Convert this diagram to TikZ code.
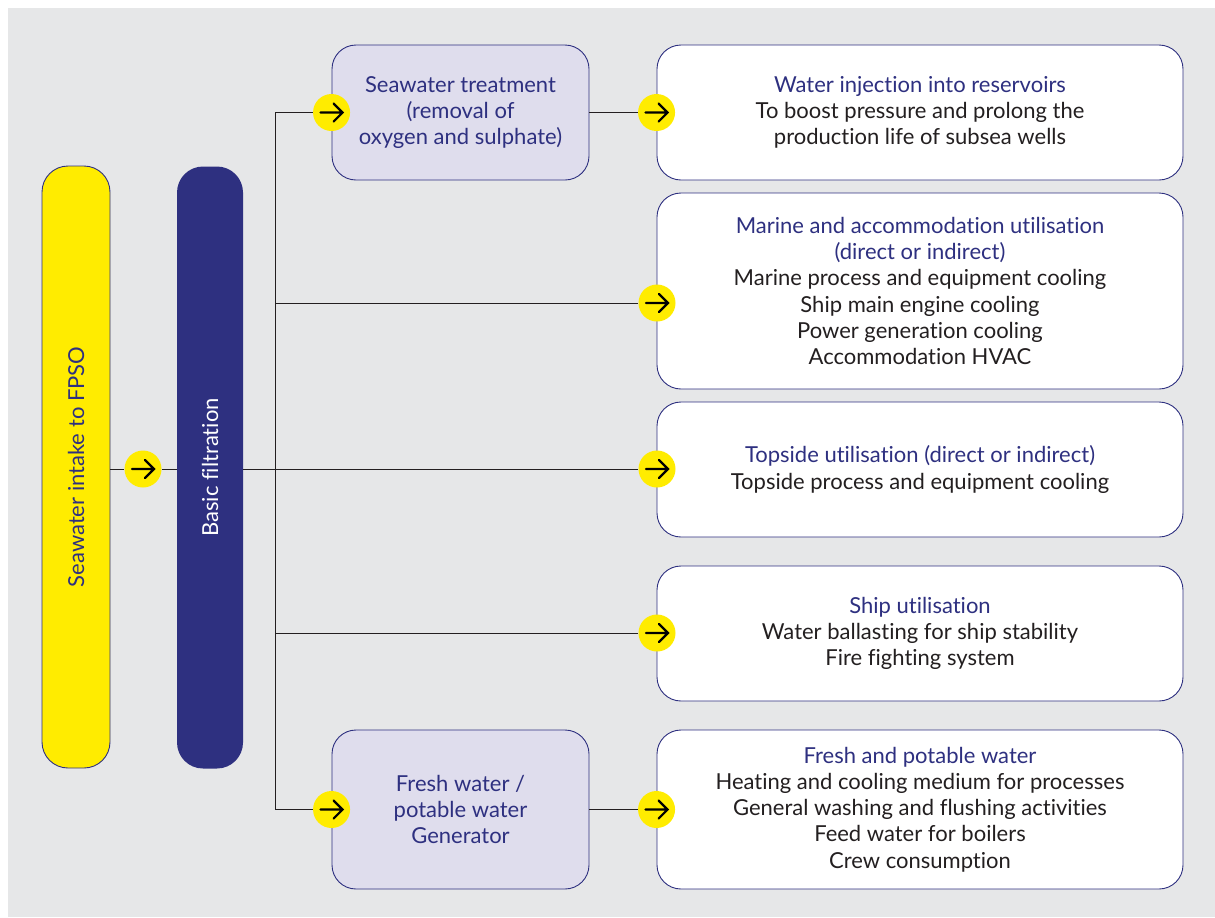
\documentclass[tikz,border=0pt]{standalone}
\usepackage{fontspec}
\setmainfont{Lato}[Ligatures=NoCommon]
\usetikzlibrary{positioning}
\definecolor{navy}{HTML}{2E3080}
\definecolor{dotyellow}{HTML}{FFEC00}
\definecolor{lavender}{HTML}{DFDDED}
\definecolor{panel}{HTML}{E6E7E8}
\definecolor{ink}{HTML}{231F20}
\tikzset{
  pill/.style={rounded corners=13pt, minimum width=34pt, minimum height=301pt, inner sep=0pt,
    font=\fontsize{11}{13.1}\selectfont},
  midbox/.style={draw=navy, line width=0.45pt, fill=lavender, rounded corners=12pt,
    minimum width=128.5pt, align=center, text=navy, font=\fontsize{11}{13.1}\selectfont},
  outbox/.style={draw=navy, line width=0.45pt, fill=white, rounded corners=12pt,
    minimum width=263pt, align=center, text=ink, font=\fontsize{11}{13.1}\selectfont},
  arrowdot/.style={circle, fill=dotyellow, minimum size=18.5pt, inner sep=0pt,
    path picture={\draw[line width=1.1pt, line cap=round]
      ([xshift=-5.5pt]path picture bounding box.center) -- ([xshift=5.5pt]path picture bounding box.center)
      ([xshift=1pt,yshift=4.5pt]path picture bounding box.center) -- ([xshift=5.5pt]path picture bounding box.center)
      -- ([xshift=1pt,yshift=-4.5pt]path picture bounding box.center);}},
  feed/.style={draw=ink, line width=0.5pt}
}
\newcommand{\hd}[1]{\textcolor{navy}{#1}}
\begin{document}
\begin{tikzpicture}[x=0.5pt, y=-0.5pt]
  \useasboundingbox (0,0) rectangle (1215,917);
  \fill[panel] (8,8) rectangle (1215,917);

  \node[pill, draw=navy, line width=0.45pt, fill=dotyellow, text=navy] (intake) at (76,467)
    {\rotatebox{90}{Seawater intake to FPSO}};
  \node[pill, fill=navy, text=white, minimum width=33pt] (filter) at (210,467.5)
    {\rotatebox{90}{Basic filtration}};

  \node[midbox, minimum height=67.5pt] (treat) at (460.5,112.5)
    {Seawater treatment\\(removal of\\oxygen and sulphate)};
  \node[midbox, minimum height=79.5pt] (gen) at (460.5,809.5)
    {Fresh water /\\potable water\\Generator};

  \node[outbox, minimum height=67.5pt] (inject) at (920,112.5)
    {\hd{Water injection into reservoirs}\\To boost pressure and prolong the\\production life of subsea wells};
  \node[outbox, minimum height=98pt] (marine) at (920,291)
    {\hd{Marine and accommodation utilisation}\\\hd{(direct or indirect)}\\Marine process and equipment cooling\\
     Ship main engine cooling\\Power generation cooling\\Accommodation HVAC};
  \node[outbox, minimum height=67.5pt] (topside) at (920,469.5)
    {\hd{Topside utilisation (direct or indirect)}\\Topside process and equipment cooling};
  \node[outbox, minimum height=67.5pt] (ship) at (920,633.5)
    {\hd{Ship utilisation}\\Water ballasting for ship stability\\Fire fighting system};
  \node[outbox, minimum height=79.5pt] (fresh) at (920,809.5)
    {\hd{Fresh and potable water}\\Heating and cooling medium for processes\\General washing and flushing activities\\
     Feed water for boilers\\Crew consumption};

  \node[arrowdot] (inletdot) at (143,469) {};
  \node[arrowdot] (treatdot) at (treat.west) {};
  \node[arrowdot] (gendot) at (gen.west) {};
  \node[arrowdot] (injectdot) at (inject.west) {};
  \node[arrowdot] (marinedot) at (657,303) {};
  \node[arrowdot] (topsidedot) at (657,469) {};
  \node[arrowdot] (shipdot) at (657,633) {};
  \node[arrowdot] (freshdot) at (fresh.west) {};

  \coordinate (trunktop) at (275,112.5);
  \coordinate (trunkbot) at (275,809.5);

  \draw[feed] (intake.east |- inletdot) -- (inletdot.west);
  \draw[feed] (inletdot.east) -- (filter.west |- inletdot);
  \draw[feed] (trunktop) -- (trunkbot);
  \draw[feed] (filter.east |- topsidedot) -- (topsidedot.west);
  \foreach \d in {treatdot, marinedot, shipdot, gendot}
    \draw[feed] (trunktop |- \d) -- (\d.west);
  \draw[feed] (treat.east) -- (injectdot.west);
  \draw[feed] (gen.east) -- (freshdot.west);
\end{tikzpicture}
\end{document}
